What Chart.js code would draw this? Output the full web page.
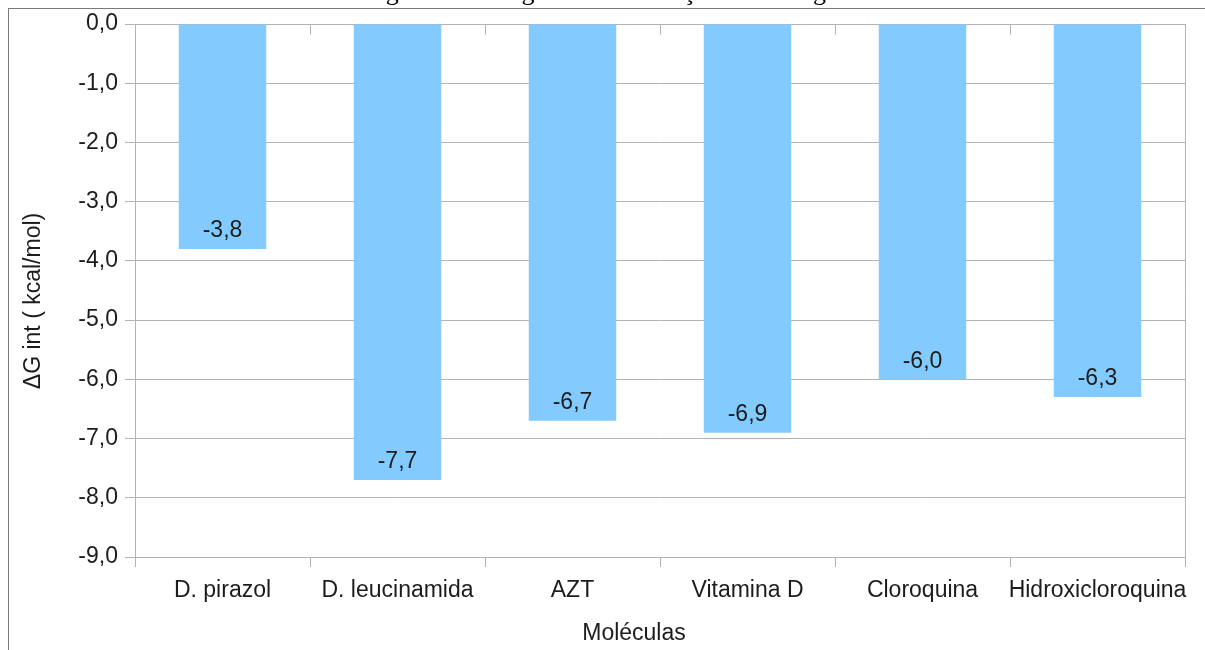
<!DOCTYPE html>
<html>
<head>
<meta charset="utf-8">
<script src="https://cdn.jsdelivr.net/npm/chart.js@4.4.1/dist/chart.umd.min.js"></script>
<style>
  html, body { margin: 0; padding: 0; background: #fff; overflow: hidden; }
  #wrap { position: relative; width: 1205px; height: 650px; overflow: hidden; }
  #frame { position: absolute; left: 8px; top: 8px; width: 1400px; height: 900px;
           border: 1px solid #7a7a7a; box-sizing: border-box; }
  #c { position: absolute; left: 0; top: 0; }
</style>
</head>
<body>
<div id="wrap">
  <div id="frame"></div>
  <canvas id="c" width="1205" height="650"></canvas>
</div>
<script>
// Interaction energy per molecule
const captionText = 'Figura 3: Histograma de interação versus ligantes.';
const categories = ['D. pirazol', 'D. leucinamida', 'AZT', 'Vitamina D', 'Cloroquina', 'Hidroxicloroquina'];
const deltaG = [-3.8, -7.7, -6.7, -6.9, -6.0, -6.3];
const yTitle = 'ΔG int ( kcal/mol)';
const xTitle = 'Moléculas';
const yMin = -9, yMax = 0, yStep = 1;

const FONT = "'Liberation Sans', Arial, sans-serif";
const TEXT = '#1c1c1c';
const GRID = '#b3b3b3';
const BAR = '#83caff';

const fmt = v => Number(v).toFixed(1).replace('.', ',');

// Extra drawing: caption, tick marks on the zero line, right wall, value labels, axis titles
const decorations = {
  id: 'decorations',
  afterDatasetsDraw(chart) {
    const { ctx, chartArea, scales } = chart;
    const y = scales.y;
    ctx.save();
    // caption above the frame
    ctx.fillStyle = '#000';
    ctx.font = "26px 'Liberation Serif', 'Times New Roman', serif";
    ctx.textAlign = 'center';
    ctx.textBaseline = 'alphabetic';
    ctx.fillText(captionText, 625, 0);

    // category separators on the zero line
    const y0 = Math.round(y.getPixelForValue(0)) + 0.5;
    const step = (chartArea.right - chartArea.left) / categories.length;
    ctx.strokeStyle = GRID;
    ctx.lineWidth = 1;
    ctx.beginPath();
    for (let i = 0; i <= categories.length; i++) {
      const px = Math.round(chartArea.left + i * step) + 0.5;
      ctx.moveTo(px, y0);
      ctx.lineTo(px, y0 + 10);
    }
    // right wall of the plot
    const rx = Math.round(chartArea.right) + 0.5;
    ctx.moveTo(rx, chartArea.top);
    ctx.lineTo(rx, chartArea.bottom);
    ctx.stroke();

    // value labels inside the bar ends
    ctx.fillStyle = TEXT;
    ctx.font = '23px ' + FONT;
    ctx.textAlign = 'center';
    ctx.textBaseline = 'middle';
    const meta = chart.getDatasetMeta(0);
    meta.data.forEach((bar, i) => {
      ctx.fillText(fmt(deltaG[i]), bar.x, bar.y - 18);
    });

    // axis titles
    ctx.font = '23px ' + FONT;
    ctx.fillText(xTitle, 634, 634);
    ctx.translate(34, 301);
    ctx.rotate(-Math.PI / 2);
    ctx.fillText(yTitle, 0, 0);
    ctx.restore();
  }
};

new Chart(document.getElementById('c'), {
  type: 'bar',
  data: {
    labels: categories,
    datasets: [{
      data: deltaG,
      backgroundColor: BAR,
      borderWidth: 0,
      barPercentage: 0.5,
      categoryPercentage: 1.0
    }]
  },
  options: {
    responsive: false,
    animation: false,
    devicePixelRatio: 1,
    layout: { padding: { left: 0, top: 24, right: 20, bottom: 0 } },
    plugins: { legend: { display: false }, tooltip: { enabled: false } },
    scales: {
      x: {
        offset: true,
        grid: { offset: true, drawOnChartArea: false, color: GRID, tickLength: 10 },
        border: { display: true, color: GRID },
        ticks: { color: TEXT, font: { family: FONT, size: 23 }, padding: 10, maxRotation: 0, autoSkip: false },
        afterFit(s) { s.height = 93; }
      },
      y: {
        min: yMin, max: yMax,
        grid: { color: GRID, tickLength: 10 },
        border: { display: true, color: GRID },
        ticks: { stepSize: yStep, color: TEXT, font: { family: FONT, size: 23 }, padding: 7, callback: v => fmt(v) },
        afterFit(s) { s.width = 135; }
      }
    }
  },
  plugins: [decorations]
});
</script>
</body>
</html>
